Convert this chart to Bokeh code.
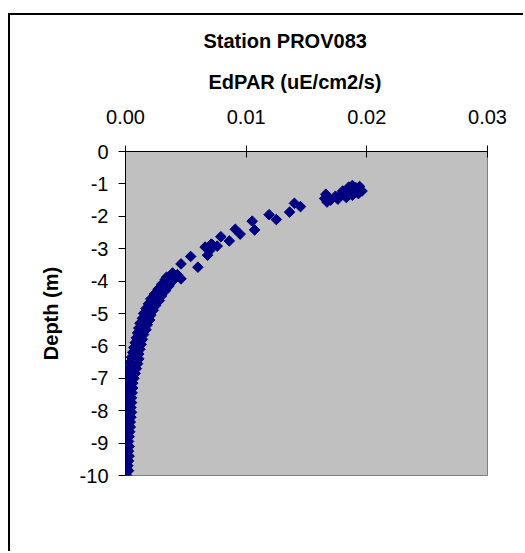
import math
from bokeh.plotting import figure
from bokeh.models import Title, FixedTicker, NumeralTickFormatter, PrintfTickFormatter
from bokeh.embed import file_html
from bokeh.resources import INLINE

# EdPAR (uE/cm2/s) values and matching depths (m)
edpar = [
    0.0188, 0.0194, 0.0191, 0.0196, 0.0187, 0.0183, 0.0193, 0.0188, 0.0179, 0.0174,
    0.0183, 0.0176, 0.0170, 0.0166, 0.0165, 0.0167, 0.0185, 0.0180,
    0.0140, 0.0145, 0.0136,
    0.0119, 0.0125, 0.0105, 0.0107, 0.0091, 0.0095, 0.0079, 0.0086, 0.0071, 0.0076,
    0.0066, 0.0070, 0.0068, 0.0072, 0.0054, 0.0060, 0.0046, 0.0046, 0.0039, 0.0034,
    0.0041, 0.0043,
    # downcast band
    0.0033, 0.0030, 0.0027, 0.0024, 0.0021, 0.0019, 0.0017, 0.0015, 0.0014, 0.0012,
    0.0011, 0.0010, 0.0009, 0.0008, 0.0007, 0.0006, 0.0005, 0.0004, 0.00035, 0.0003,
    0.00025, 0.0002, 0.00025, 0.0002, 0.0002, 0.00025, 0.0002, 0.00025, 0.0002, 0.00015,
    0.0002, 0.00015, 0.0001, 0.00005, 0.0001, 0.0001, 0.00005, 0.0001, 0.00005, 0.0000,
    0.0000,
    # upcast band
    0.0039, 0.0036, 0.0033, 0.0030, 0.0028, 0.0025, 0.0023, 0.0021, 0.0020, 0.0018,
    0.0017, 0.0015, 0.0014, 0.0013, 0.0012, 0.0011, 0.0011, 0.0010, 0.0009, 0.0008,
    0.0007, 0.0006, 0.0006, 0.00055, 0.0005, 0.0005, 0.00045, 0.0005, 0.00045, 0.0004,
    0.0004, 0.00035, 0.0003, 0.00025, 0.0003, 0.00025, 0.0003, 0.00025, 0.0002, 0.00025,
    0.0001,
    0.0031, 0.0024, 0.0018, 0.0014,
]
depth = [
    -1.05, -1.08, -1.12, -1.22, -1.18, -1.25, -1.30, -1.35, -1.32, -1.38,
    -1.42, -1.47, -1.50, -1.32, -1.45, -1.56, -1.10, -1.22,
    -1.60, -1.70, -1.87,
    -1.95, -2.10, -2.15, -2.42, -2.40, -2.55, -2.63, -2.76, -2.86, -2.92,
    -2.95, -3.05, -3.20, -2.88, -3.24, -3.57, -3.47, -3.93, -3.75, -3.88,
    -3.85, -3.80,
    -3.95, -4.10, -4.25, -4.40, -4.55, -4.70, -4.85, -5.00, -5.15, -5.30,
    -5.45, -5.60, -5.75, -5.90, -6.05, -6.20, -6.35, -6.50, -6.65, -6.80,
    -6.95, -7.10, -7.25, -7.40, -7.55, -7.70, -7.85, -8.00, -8.15, -8.30,
    -8.45, -8.60, -8.75, -8.90, -9.05, -9.20, -9.35, -9.50, -9.65, -9.80,
    -9.95,
    -4.00, -4.15, -4.30, -4.45, -4.60, -4.75, -4.90, -5.05, -5.20, -5.35,
    -5.50, -5.65, -5.80, -5.95, -6.10, -6.25, -6.40, -6.55, -6.70, -6.85,
    -7.00, -7.15, -7.30, -7.45, -7.60, -7.75, -7.90, -8.05, -8.20, -8.35,
    -8.50, -8.65, -8.80, -8.95, -9.10, -9.25, -9.40, -9.55, -9.70, -9.85,
    -10.00,
    -4.20, -4.60, -5.00, -5.40,
]

x_ticks = [0.0, 0.01, 0.02, 0.03]
y_ticks = [0, -1, -2, -3, -4, -5, -6, -7, -8, -9, -10]

title_text = "Station PROV083"
x_title = "EdPAR (uE/cm2/s)"
y_title = "Depth (m)"

FONT = "Liberation Sans"
FS = "20px"

# canvas starts at page x=10, y=15 (after margin + 2px border)
p = figure(width=515, height=538, x_range=(0, 0.03), y_range=(-10, 0),
           x_axis_location="above", output_backend="svg", toolbar_location=None,
           title=None,
           min_border_left=115, min_border_right=38, min_border_top=136,
           min_border_bottom=78)
p.styles = {"margin-left": "8px", "margin-top": "13px",
            "border-left": "2px solid black", "border-top": "2px solid black"}
p.background_fill_color = "#C0C0C0"
p.border_fill_color = "white"
p.outline_line_color = "#808080"
p.outline_line_width = 1
p.grid.visible = False

p.xaxis.ticker = FixedTicker(ticks=x_ticks)
p.xaxis.formatter = NumeralTickFormatter(format="0.00")
p.yaxis.ticker = FixedTicker(ticks=y_ticks)
p.yaxis.formatter = PrintfTickFormatter(format="%d")
for ax in (p.xaxis, p.yaxis):
    ax.axis_line_color = "black"
    ax.axis_line_width = 1
    ax.major_tick_line_color = "black"
    ax.minor_tick_line_color = None
    ax.major_label_text_font = FONT
    ax.major_label_text_font_size = FS
    ax.major_label_text_color = "black"
p.xaxis.major_tick_in = 6
p.xaxis.major_tick_out = 6
p.xaxis.major_label_standoff = 22
p.yaxis.major_tick_in = 0
p.yaxis.major_tick_out = 7
p.yaxis.major_label_standoff = 10

p.yaxis.axis_label = y_title
p.yaxis.axis_label_text_font = FONT
p.yaxis.axis_label_text_font_size = FS
p.yaxis.axis_label_text_font_style = "bold"
p.yaxis.axis_label_text_color = "black"
p.yaxis.axis_label_standoff = 15

p.scatter(edpar, depth, marker="square", angle=math.pi / 4, size=7.5,
          fill_color="#000080", line_color="#000080")

p.add_layout(Title(text=x_title, align="left", offset=83, standoff=27,
                   text_font=FONT, text_font_size=FS, text_font_style="bold",
                   text_color="black"), "above")
p.add_layout(Title(text=title_text, align="left", offset=78, standoff=7,
                   text_font=FONT, text_font_size=FS, text_font_style="bold",
                   text_color="black"), "above")

open("out.html", "w").write(file_html(p, INLINE))
